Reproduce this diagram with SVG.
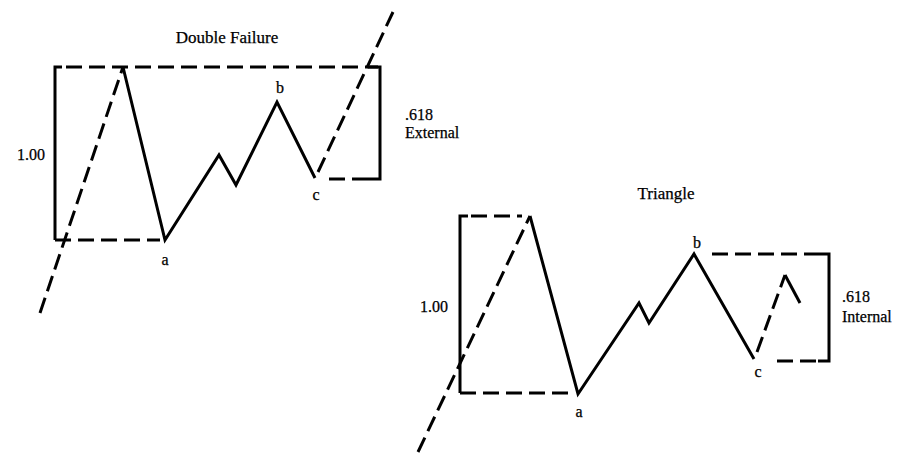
<svg xmlns="http://www.w3.org/2000/svg" width="908" height="453" viewBox="0 0 908 453">
<style>
.bg{fill:#ffffff}
.solid{fill:none;stroke:#000;stroke-width:3;stroke-linejoin:miter;stroke-linecap:butt}
.dash{fill:none;stroke:#000;stroke-width:3;stroke-dasharray:16 7}
.t{font-family:"Liberation Serif","Times New Roman",serif;font-size:16px;fill:#000;stroke:#000;stroke-width:0.25}
.title{font-family:"Liberation Serif","Times New Roman",serif;font-size:17px;fill:#000;stroke:#000;stroke-width:0.25}
</style>
<rect class="bg" x="0" y="0" width="908" height="453"/>
<g id="double-failure">
  <text class="title" x="227" y="43" text-anchor="middle">Double Failure</text>
  <text class="t" x="31" y="160" text-anchor="middle">1.00</text>
  <text class="t" x="165" y="265" text-anchor="middle">a</text>
  <text class="t" x="280" y="93" text-anchor="middle">b</text>
  <text class="t" x="316" y="200" text-anchor="middle">c</text>
  <text class="t" x="405" y="120">.618</text>
  <text class="t" x="405" y="138">External</text>
</g>
<g id="triangle">
  <text class="title" x="666" y="199" text-anchor="middle">Triangle</text>
  <text class="t" x="434" y="312" text-anchor="middle">1.00</text>
  <text class="t" x="579" y="417" text-anchor="middle">a</text>
  <text class="t" x="697" y="248" text-anchor="middle">b</text>
  <text class="t" x="758" y="377" text-anchor="middle">c</text>
  <text class="t" x="842" y="302">.618</text>
  <text class="t" x="842" y="322">Internal</text>
</g>
<g id="connectors">
  <!-- left diagram -->
  <path class="solid" d="M55,240 V67 H62"/>
  <path class="dash" d="M66,67 H378"/>
  <path class="solid" d="M368,67 H380 V179 H368"/>
  <path class="dash" d="M368,179 H325"/>
  <path class="dash" d="M55,240 H160"/>
  <path class="dash" d="M40,313 L123,67"/>
  <path class="solid" d="M123,67 L165,240 L219,155 L236,185 L277,102 L315,178"/>
  <path class="dash" d="M318,172 L393,12"/>
  <!-- right diagram -->
  <path class="solid" d="M460,393 V216 H468"/>
  <path class="dash" d="M471,216 H522"/>
  <path class="dash" d="M460,393 H574"/>
  <path class="dash" d="M418,452 L530,216"/>
  <path class="solid" d="M530,216 L578,394 L639,303 L649,323 L694,254 L754,359"/>
  <path class="dash" d="M757,352 L785,275"/>
  <path class="solid" d="M785,275 L800,303"/>
  <path class="dash" d="M712,254 H818"/>
  <path class="solid" d="M818,254 H829 V361 H818"/>
  <path class="dash" d="M816,361 H770"/>
</g>
</svg>
